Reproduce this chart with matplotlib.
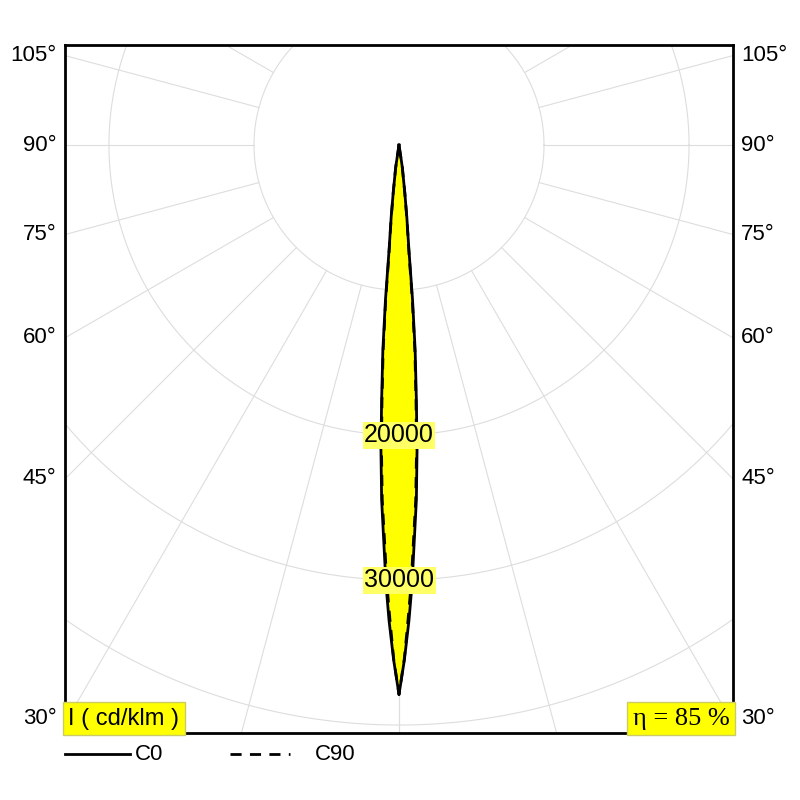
import numpy as np
import matplotlib
matplotlib.use("Agg")
import matplotlib.pyplot as plt

plt.rcParams["font.family"] = ["Liberation Sans", "DejaVu Sans"]

# polar intensity data (angle from nadir in deg, cd/klm)
angles_c0 = [0, 0.6, 1.2, 1.7, 2.1, 2.8, 3.4, 3.9, 4.5, 5.0, 5.4, 6.2, 7.0, 8.5, 10]
intens_c0 = [37900, 35500, 32800, 30300, 27900, 24500, 21000, 17600, 14200, 10700, 7300, 5000, 3200, 1500, 0]
angles_c90 = [0, 0.6, 1.1, 1.6, 2.0, 2.7, 3.3, 3.8, 4.4, 4.9, 5.3, 6.1, 6.9, 8.4, 10]
intens_c90 = [37900, 35400, 32700, 30200, 27800, 24500, 21000, 17700, 14300, 10800, 7400, 5100, 3300, 1600, 0]
ring_values = [10000, 20000, 30000, 40000, 50000, 60000]
ring_labels = {20000: "20000", 30000: "30000"}
angle_ticks = [30, 45, 60, 75, 90, 105]
eta = "η = 85 %"
unit = "I ( cd/klm )"

XMAX, YTOP, YBOT = 23030, 6900, -40550


def to_xy(ang, r, side=1):
    a = np.radians(np.asarray(ang, float))
    r = np.asarray(r, float)
    return side * r * np.sin(a), -r * np.cos(a)


fig = plt.figure(figsize=(8, 8), dpi=100)
ax = fig.add_axes([65 / 800, 1 - 733 / 800, 668 / 800, 688 / 800])
ax.set_xlim(-XMAX, XMAX)
ax.set_ylim(YBOT, YTOP)
ax.set_xticks([]); ax.set_yticks([])
for s in ax.spines.values():
    s.set_linewidth(2)

grid = "#dddddd"
t = np.linspace(0, 2 * np.pi, 400)
for r in ring_values:
    ax.plot(r * np.cos(t), r * np.sin(t), color=grid, lw=0.8, zorder=1)
for a in range(0, 181, 15):
    x, y = to_xy(a, [10000, 90000])
    ax.plot(x, y, color=grid, lw=0.8, zorder=1)
    ax.plot(-x, y, color=grid, lw=0.8, zorder=1)


def full(angs, vals):
    xr, yr = to_xy(angs, vals, 1)
    xl, yl = to_xy(angs[::-1], vals[::-1], -1)
    return np.r_[xl, xr], np.r_[yl, yr]

x0, y0 = full(angles_c0, intens_c0)
x9, y9 = full(angles_c90, intens_c90)
ax.fill(x0, y0, color="#ffff00", zorder=2)
ax.plot(x0, y0, color="black", lw=2, zorder=3)
ax.plot(x9, y9, color="black", lw=2, ls=(0, (4, 3)), zorder=3)

for r, lab in ring_labels.items():
    ax.text(0, -r, lab, ha="center", va="center", fontsize=18, zorder=4,
            bbox=dict(facecolor="#ffff66", edgecolor="none", pad=1))

for a in angle_ticks:
    y = -XMAX / np.tan(np.radians(a)) if a != 90 else 0
    y = max(y, YBOT + 1000)
    for xs, ha in [(-XMAX, "right"), (XMAX, "left")]:
        ax.annotate(f"{a}°", (xs, y), xytext=(-6 if ha == "right" else 6, 0),
                    textcoords="offset points", ha=ha, va="center", fontsize=16,
                    annotation_clip=False)

ax.text(0.005, 0.005, unit, transform=ax.transAxes, ha="left", va="bottom", fontsize=17,
        bbox=dict(facecolor="#ffff00", edgecolor="#cccc66", pad=4), zorder=5)
ax.text(0.995, 0.005, eta, transform=ax.transAxes, ha="right", va="bottom", fontsize=19,
        family="Liberation Serif", bbox=dict(facecolor="#ffff00", edgecolor="#cccc66", pad=4), zorder=5)

# legend
ly = 1 - 754 / 800
fig.lines.append(plt.Line2D([65 / 800, 130 / 800], [ly] * 2, color="black", lw=2, transform=fig.transFigure))
fig.text(135 / 800, ly, "C0", va="center", fontsize=16)
fig.lines.append(plt.Line2D([230 / 800, 290 / 800], [ly] * 2, color="black", lw=2, ls=(0, (4, 3)), transform=fig.transFigure))
fig.text(315 / 800, ly, "C90", va="center", fontsize=16)

fig.savefig("out.png", dpi=100)
